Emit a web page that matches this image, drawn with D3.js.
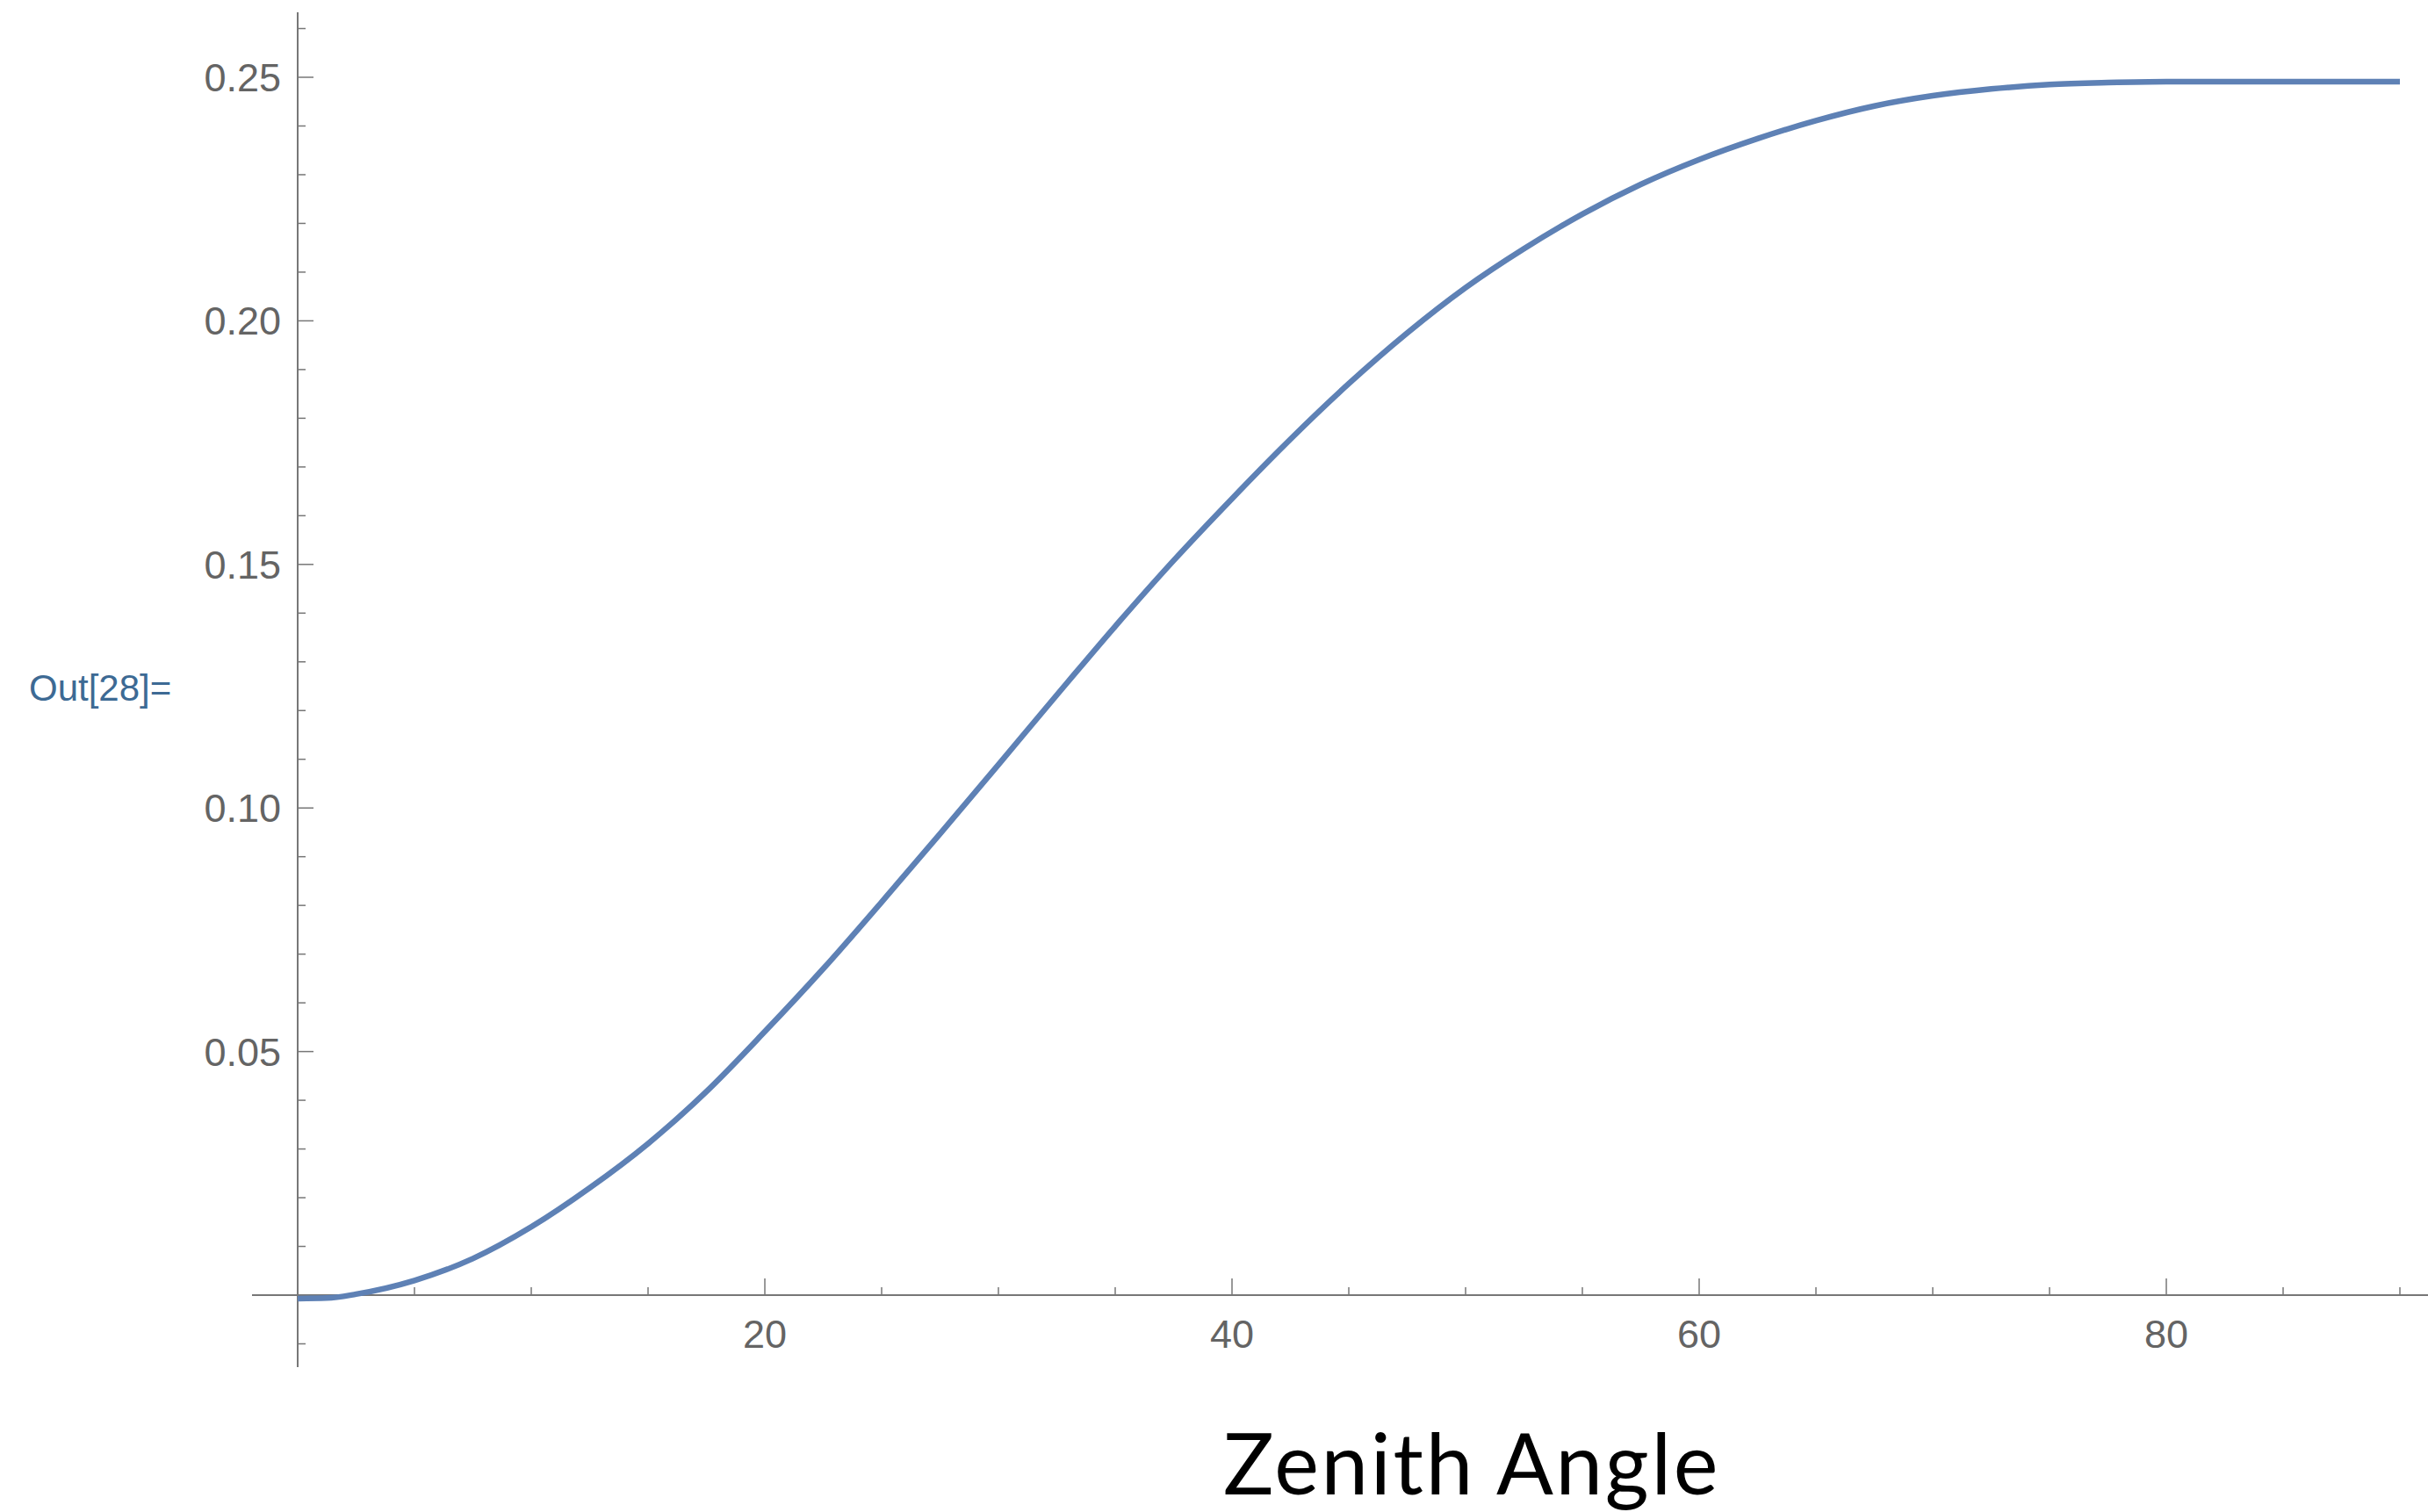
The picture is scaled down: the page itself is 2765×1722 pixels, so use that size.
<!DOCTYPE html>
<html lang="en">
<head>
  <meta charset="UTF-8">
  <title>Zenith Angle</title>
  <script src="https://d3js.org/d3.v7.min.js"></script>
  <style>
    body { margin: 0; background: #fff; }
    svg { display: block; }
    .tick-label { font-family: "Liberation Sans", Arial, sans-serif; font-size: 45px; fill: #646464; }
  </style>
</head>
<body>
  <div id="chart"></div>
  <script>
    // values
    const angle = [0, 1.25, 2.5, 5, 7.5, 10, 12.5, 15, 17.5, 20, 22.5, 25, 27.5, 30, 32.5, 35, 37.5,
                   40, 42.5, 45, 47.5, 50, 52.5, 55, 57.5, 60, 62.5, 65, 67.5, 70, 72.5, 75, 77.5,
                   80, 82.5, 85, 87.5, 90];
    const value = [-0.0007, -0.0006, 0.0002, 0.0030, 0.0075, 0.0140, 0.0220, 0.0311, 0.0418, 0.0541,
                   0.0670, 0.0807, 0.0947, 0.1089, 0.1232, 0.1373, 0.1508, 0.1635, 0.1757, 0.1871,
                   0.1975, 0.2068, 0.2148, 0.2219, 0.2280, 0.2331, 0.2374, 0.2411, 0.2441, 0.2462,
                   0.2476, 0.2485, 0.2489, 0.2491, 0.2491, 0.2491, 0.2491, 0.2491];
    const xMajor = [20, 40, 60, 80];
    const xMinor = [5, 10, 15, 25, 30, 35, 45, 50, 55, 65, 70, 75, 85, 90];
    const yMajor = [0.05, 0.10, 0.15, 0.20, 0.25];
    const yMinor = [-0.01, 0.01, 0.02, 0.03, 0.04, 0.06, 0.07, 0.08, 0.09, 0.11, 0.12, 0.13, 0.14,
                    0.16, 0.17, 0.18, 0.19, 0.21, 0.22, 0.23, 0.24, 0.26];

    const W = 2765, H = 1722;
    const svg = d3.select('#chart').append('svg').attr('width', W).attr('height', H);

    const x = d3.scaleLinear().domain([0, 90]).range([339, 2733]);
    const y = d3.scaleLinear().domain([0, 0.25]).range([1475, 88]);
    const axisColor = '#777';

    // x axis (ticks point up)
    const gx = svg.append('g').attr('transform', `translate(0,${y(0)})`);
    gx.append('line').attr('x1', 287).attr('x2', W).attr('stroke', axisColor).attr('stroke-width', 2);
    gx.selectAll('.mn').data(xMinor).enter().append('line')
      .attr('x1', d => x(d)).attr('x2', d => x(d)).attr('y1', 0).attr('y2', -9)
      .attr('stroke', axisColor).attr('stroke-width', 1.5);
    gx.selectAll('.mj').data(xMajor).enter().append('line')
      .attr('x1', d => x(d)).attr('x2', d => x(d)).attr('y1', 0).attr('y2', -19)
      .attr('stroke', axisColor).attr('stroke-width', 1.5);
    gx.selectAll('text').data(xMajor).enter().append('text')
      .attr('class', 'tick-label').attr('x', d => x(d)).attr('y', 60)
      .attr('text-anchor', 'middle').text(d => d);

    // y axis (ticks point right)
    const gy = svg.append('g').attr('transform', `translate(${x(0)},0)`);
    gy.append('line').attr('y1', 14).attr('y2', 1557).attr('stroke', axisColor).attr('stroke-width', 2);
    gy.selectAll('.mn').data(yMinor).enter().append('line')
      .attr('y1', d => y(d)).attr('y2', d => y(d)).attr('x1', 0).attr('x2', 9)
      .attr('stroke', axisColor).attr('stroke-width', 1.5);
    gy.selectAll('.mj').data(yMajor).enter().append('line')
      .attr('y1', d => y(d)).attr('y2', d => y(d)).attr('x1', 0).attr('x2', 18)
      .attr('stroke', axisColor).attr('stroke-width', 1.5);
    gy.selectAll('text').data(yMajor).enter().append('text')
      .attr('class', 'tick-label').attr('x', -19).attr('y', d => y(d) + 16)
      .attr('text-anchor', 'end').text(d => d3.format('.2f')(d));

    // curve
    const line = d3.line().x((d, i) => x(angle[i])).y(d => y(d)).curve(d3.curveMonotoneX);
    svg.append('path').datum(value).attr('d', line)
      .attr('fill', 'none').attr('stroke', '#5e81b5').attr('stroke-width', 6.5)
      .attr('stroke-linejoin', 'round');

    // notebook output label
    svg.append('text').attr('x', 33).attr('y', 798)
      .attr('font-family', '"Liberation Sans", Arial, sans-serif').attr('font-size', 42)
      .attr('fill', '#3d6a94').text('Out[28]=');

    // axis title
    svg.append('text').attr('x', 1393).attr('y', 1702)
      .attr('font-family', 'Lato, "Open Sans", sans-serif').attr('font-size', 96)
      .attr('letter-spacing', 2.7)
      .attr('fill', '#000').text('Zenith Angle');
  </script>
</body>
</html>
